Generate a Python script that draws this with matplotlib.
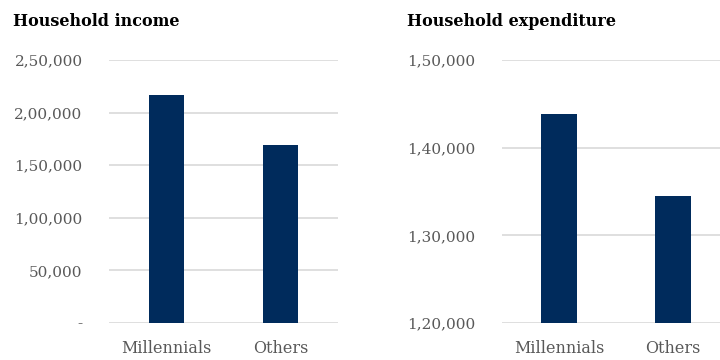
import matplotlib.pyplot as plt
from matplotlib.ticker import FuncFormatter

categories = ["Millennials", "Others"]
income = [216700, 169300]
expenditure = [143850, 134500]

income_ticks = [0, 50000, 100000, 150000, 200000, 250000]
expenditure_ticks = [120000, 130000, 140000, 150000]

plt.rcParams["font.family"] = ["DejaVu Serif"]

bar_color = "#002b5c"
grid_color = "#d9d9d9"
label_color = "#595959"


def indian(x, pos=None):
    # format a la indienne : 2,50,000
    if x == 0:
        return "-"
    s = str(int(round(x)))
    last3 = s[-3:]
    rest = s[:-3]
    groups = []
    while len(rest) > 2:
        groups.insert(0, rest[-2:])
        rest = rest[:-2]
    if rest:
        groups.insert(0, rest)
    return ",".join(groups + [last3])


fig = plt.figure(figsize=(7.2, 3.6), dpi=100)
ax1 = fig.add_axes([109 / 720, 1 - 323 / 360, 229 / 720, 263 / 360])
ax2 = fig.add_axes([502 / 720, 1 - 323 / 360, 228 / 720, 263 / 360])

panels = [
    (ax1, income, income_ticks, "Household income", 13 / 720),
    (ax2, expenditure, expenditure_ticks, "Household expenditure", 407 / 720),
]

for ax, values, ticks, title, tx in panels:
    x = range(len(categories))
    ax.bar(x, values, width=0.31, color=bar_color, zorder=3)
    ax.set_xlim(-0.5, 1.5)
    ax.set_ylim(ticks[0], ticks[-1])
    ax.set_yticks(ticks)
    ax.yaxis.set_major_formatter(FuncFormatter(indian))
    ax.set_xticks(list(x))
    ax.set_xticklabels(categories)
    ax.grid(axis="y", color=grid_color, linewidth=1.2, zorder=0)
    ax.set_axisbelow(True)
    for sp in ax.spines.values():
        sp.set_visible(False)
    ax.tick_params(axis="y", length=0, labelsize=11, labelcolor=label_color, pad=19)
    ax.tick_params(axis="x", length=0, labelsize=11.5, labelcolor=label_color, pad=12)
    fig.text(tx, 1 - 22 / 360, title, fontsize=11.5, fontweight="bold",
             va="center", ha="left", color="black")

fig.savefig("out.png", dpi=100)
